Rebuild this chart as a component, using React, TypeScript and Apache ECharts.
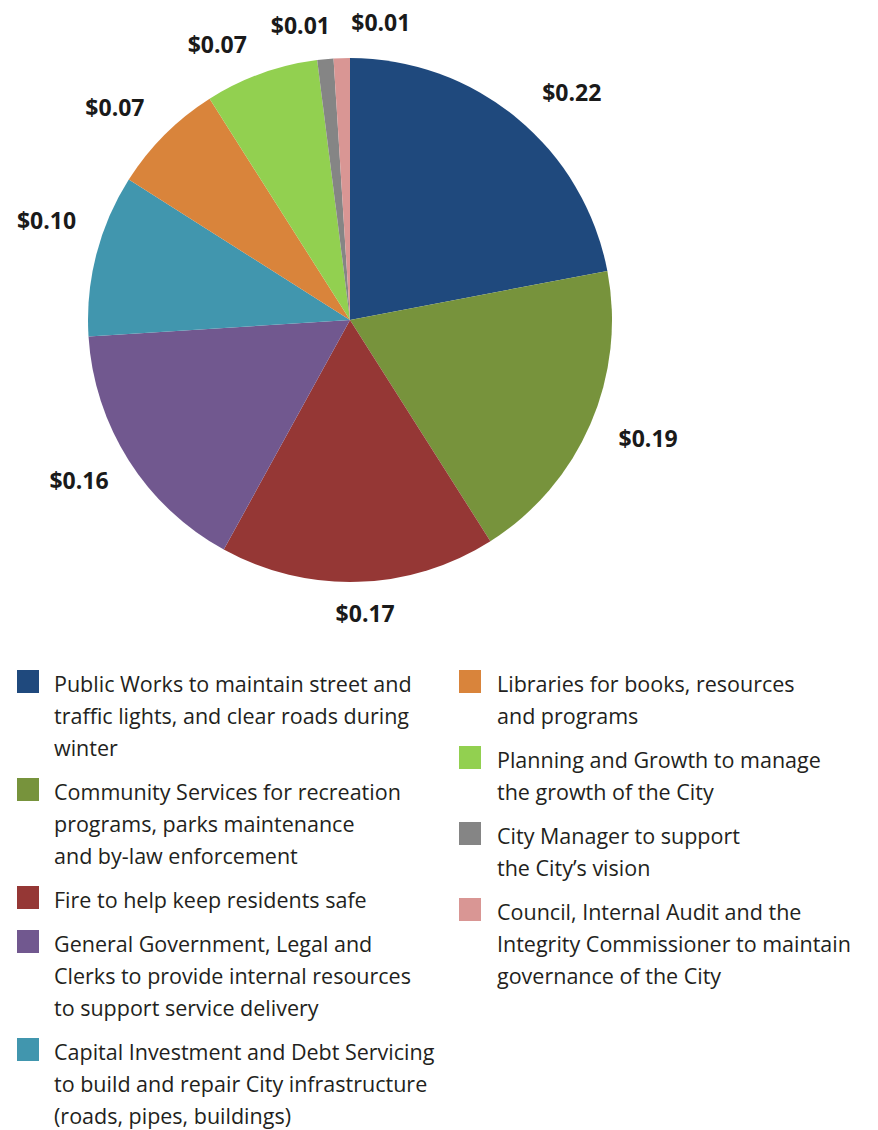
import React, { useEffect, useRef } from "react";
import * as echarts from "echarts";

const categories = [
  "Public Works",
  "Community Services",
  "Fire",
  "General Government, Legal and Clerks",
  "Capital Investment and Debt Servicing",
  "Libraries",
  "Planning and Growth",
  "City Manager",
  "Council, Internal Audit and the Integrity Commissioner",
];

const values = [0.22, 0.19, 0.17, 0.16, 0.1, 0.07, 0.07, 0.01, 0.01];

const colors = [
  "#1F497D",
  "#77933C",
  "#953735",
  "#71588F",
  "#4196AE",
  "#D9843B",
  "#92D050",
  "#858585",
  "#D99694",
];

const legendLines = [
  ["Public Works to maintain street and", "traffic lights, and clear roads during", "winter"],
  ["Community Services for recreation", "programs, parks maintenance", "and by-law enforcement"],
  ["Fire to help keep residents safe"],
  ["General Government, Legal and", "Clerks to provide internal resources", "to support service delivery"],
  ["Capital Investment and Debt Servicing", "to build and repair City infrastructure", "(roads, pipes, buildings)"],
  ["Libraries for books, resources", "and programs"],
  ["Planning and Growth to manage", "the growth of the City"],
  ["City Manager to support", "the City\u2019s vision"],
  ["Council, Internal Audit and the", "Integrity Commissioner to maintain", "governance of the City"],
];

const leftColumn = [0, 1, 2, 3, 4];
const rightColumn = [5, 6, 7, 8];

// layout constants
const CX = 350;
const CY = 320;
const R = 262;
const LABEL_GAP = 16;
const LABEL_W = 60;
const LABEL_H = 26;
const labelNudge: [number, number][] = [
  [26, 9],
  [13, -5],
  [6, 1],
  [-9, -6],
  [-3, -23],
  [-17, 5],
  [-31, 7],
  [-22, -3],
  [40, -6],
];

const LINE_H = 32;
const ITEM_GAP = 12;
const LEGEND_TOP = 667;
const FONT_LEGEND = '21.5px "Open Sans", sans-serif';

function buildLegend() {
  const els: any[] = [];
  const addColumn = (idxs: number[], sqX: number, txtX: number) => {
    let top = LEGEND_TOP;
    idxs.forEach((i) => {
      els.push({
        type: "rect",
        shape: { x: sqX, y: top + 3, width: 22, height: 23 },
        style: { fill: colors[i] },
        silent: true,
      });
      els.push({
        type: "text",
        x: txtX,
        y: top,
        style: {
          text: legendLines[i].join("\n"),
          font: FONT_LEGEND,
          fill: "#231F20",
          lineHeight: LINE_H,
          verticalAlign: "top",
          align: "left",
        },
        silent: true,
      });
      top += legendLines[i].length * LINE_H + ITEM_GAP;
    });
  };
  addColumn(leftColumn, 17, 54);
  addColumn(rightColumn, 459, 497);
  return els;
}

export default function App() {
  const ref = useRef<HTMLDivElement>(null);

  useEffect(() => {
    if (!ref.current) return;
    const chart = echarts.init(ref.current, undefined, { renderer: "svg" });
    const total = values.reduce((a, b) => a + b, 0);
    const mids: number[] = [];
    let cum = 0;
    values.forEach((v) => {
      mids.push(90 - (360 * (cum + v / 2)) / total);
      cum += v;
    });

    chart.setOption({
      animation: false,
      backgroundColor: "#ffffff",
      series: [
        {
          type: "pie",
          center: [CX, CY],
          radius: [0, R],
          startAngle: 90,
          clockwise: true,
          avoidLabelOverlap: false,
          label: {
            show: true,
            position: "outside",
            formatter: (p: any) => "$" + Number(p.value).toFixed(2),
            fontFamily: '"Open Sans", sans-serif',
            fontWeight: "bold",
            fontSize: 23,
            color: "#1a1a1a",
          },
          labelLine: { show: false },
          labelLayout: (params: any) => {
            const i = params.dataIndex;
            const a = (mids[i] * Math.PI) / 180;
            const c = Math.cos(a);
            const s = Math.sin(a);
            const ext = (LABEL_W / 2) * Math.abs(c) + (LABEL_H / 2) * Math.abs(s);
            const d = R + LABEL_GAP + ext;
            return {
              x: CX + c * d + labelNudge[i][0],
              y: CY - s * d + labelNudge[i][1],
              align: "center",
              verticalAlign: "middle",
            };
          },
          itemStyle: { borderWidth: 0 },
          emphasis: { disabled: true },
          data: categories.map((name, i) => ({
            name,
            value: values[i],
            itemStyle: { color: colors[i] },
          })),
        },
      ],
      graphic: buildLegend(),
    });
    return () => chart.dispose();
  }, []);

  return (
    <div
      ref={ref}
      style={{ position: "fixed", left: 0, top: 0, width: 878, height: 1130, background: "#fff" }}
    />
  );
}
